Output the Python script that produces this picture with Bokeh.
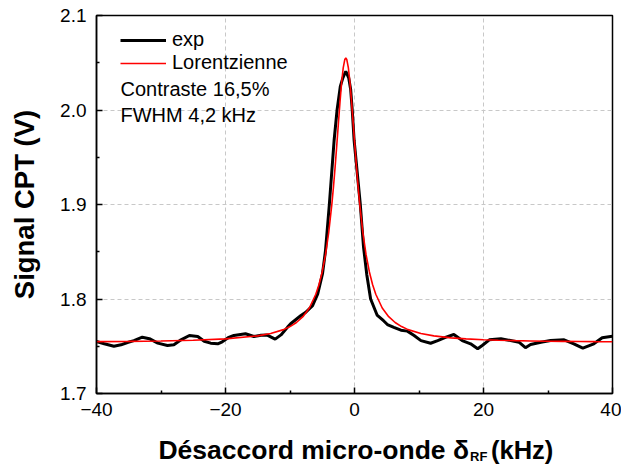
from bokeh.plotting import figure
from bokeh.layouts import column
from bokeh.models import (Range1d, FixedTicker, PrintfTickFormatter, Legend,
                          LegendItem, Label, ColumnDataSource)
from bokeh.embed import file_html
from bokeh.resources import INLINE

# ---------------- data ----------------
exp_x = [-40.0, -38.8, -37.3, -36.2, -35.2, -34.2, -32.9, -31.8, -30.5, -29.0,
         -28.0, -26.9, -25.6, -24.3, -23.3, -22.3, -21.2, -20.5, -19.6, -18.7,
         -16.9, -15.6, -14.5, -13.6, -13.0, -12.3, -11.4, -10.4, -9.9, -8.3,
         -7.55, -6.5, -5.7, -4.96, -4.5, -3.9, -3.16, -2.7, -2.2, -1.8,
         -1.35, -0.9, -0.6, -0.35, -0.06, 0.9, 1.4, 1.9, 2.5, 3.5,
         4.5, 5.1, 6.1, 7.2, 8.2, 9.24, 10.3, 11.8, 12.9, 14.2,
         15.4, 16.7, 18.0, 19.1, 19.8, 20.9, 22.7, 24.2, 25.5, 26.5,
         27.3, 28.9, 30.4, 32.5, 34.0, 35.4, 37.1, 38.4, 39.7, 40.0]
exp_y = [1.7550, 1.7526, 1.7500, 1.7515, 1.7540, 1.7560, 1.7596, 1.7580, 1.7533, 1.7508,
         1.7515, 1.7568, 1.7614, 1.7603, 1.7553, 1.7533, 1.7526, 1.7547, 1.7590, 1.7614,
         1.7632, 1.7603, 1.7617, 1.7620, 1.7600, 1.7575, 1.7620, 1.7700, 1.7738, 1.7825,
         1.7860, 1.7930, 1.8055, 1.8267, 1.8510, 1.9000, 1.9680, 2.0000, 2.0250, 2.0340,
         2.0410, 2.0340, 2.0220, 2.0000, 1.9680, 1.9000, 1.8550, 1.8260, 1.8000, 1.7830,
         1.7770, 1.7730, 1.7700, 1.7670, 1.7660, 1.7614, 1.7560, 1.7532, 1.7560, 1.7596,
         1.7624, 1.7560, 1.7526, 1.7473, 1.7508, 1.7568, 1.7579, 1.7560, 1.7543, 1.7485,
         1.7519, 1.7543, 1.7560, 1.7568, 1.7526, 1.7480, 1.7526, 1.7590, 1.7603, 1.7605]

fit_x = [-40.0, -35.0, -30.0, -25.0, -20.0, -15.0, -13.0, -11.0, -10.0, -9.0,
         -8.0, -7.0, -6.0, -5.5, -5.0, -4.5, -4.0, -3.5, -3.25, -3.0,
         -2.75, -2.5, -2.25, -2.0, -1.75, -1.5, -1.35, -1.2, -0.95, -0.7,
         -0.45, -0.2, 0.05, 0.3, 0.55, 0.8, 1.3, 1.8, 2.3, 2.8,
         3.3, 4.3, 5.3, 6.3, 7.3, 8.3, 10.3, 12.3, 15.0, 17.3,
         20.0, 22.3, 25.0, 27.3, 30.0, 32.3, 35.0, 37.3, 40.0]
fit_y = [1.7549, 1.7552, 1.7556, 1.7564, 1.7578, 1.7610, 1.7635, 1.7676, 1.7708, 1.7751,
         1.7813, 1.7905, 1.8050, 1.8154, 1.8289, 1.8466, 1.8701, 1.9010, 1.9195, 1.9401,
         1.9624, 1.9855, 2.0083, 2.0287, 2.0445, 2.0535, 2.0550, 2.0535, 2.0445, 2.0287,
         2.0083, 1.9855, 1.9624, 1.9401, 1.9195, 1.9010, 1.8701, 1.8466, 1.8289, 1.8154,
         1.8050, 1.7905, 1.7813, 1.7751, 1.7708, 1.7676, 1.7635, 1.7610, 1.7589, 1.7578,
         1.7569, 1.7564, 1.7559, 1.7556, 1.7553, 1.7552, 1.7550, 1.7549, 1.7548]

x_major = [-40, -20, 0, 20, 40]
x_minor = [-30, -10, 10, 30]
y_major = [1.7, 1.8, 1.9, 2.0, 2.1]
y_minor = [1.75, 1.85, 1.95, 2.05]

series_names = ["exp", "Lorentzienne"]
note_lines = ["Contraste 16,5%", "FWHM 4,2 kHz"]
y_title = "Signal CPT (V)"
x_title_parts = ["Désaccord micro-onde δ", "RF", "(kHz)"]

FONT = "Liberation Sans"
W = 621
H_MAIN = 430
H_TITLE = 43
LEFT, RIGHT = 96, 9

# ---------------- main figure ----------------
p = figure(width=W, height=H_MAIN, output_backend="svg", toolbar_location=None,
           title=None,
           x_range=Range1d(-40, 40), y_range=Range1d(1.7, 2.1),
           min_border_left=LEFT, min_border_right=RIGHT, min_border_top=15,
           min_border_bottom=37)
p.background_fill_color = "white"
p.border_fill_color = "white"
p.outline_line_color = "black"
p.outline_line_width = 1.5

src_exp = ColumnDataSource(dict(x=exp_x, y=exp_y))
src_fit = ColumnDataSource(dict(x=fit_x, y=fit_y))
r_exp = p.line("x", "y", source=src_exp, line_color="black", line_width=3)
r_fit = p.line("x", "y", source=src_fit, line_color="#ff0000", line_width=1.6)

p.xaxis.ticker = FixedTicker(ticks=x_major, minor_ticks=x_minor)
p.yaxis.ticker = FixedTicker(ticks=y_major, minor_ticks=y_minor)
p.yaxis.formatter = PrintfTickFormatter(format="%.1f")
for ax in (p.xaxis, p.yaxis):
    ax.axis_line_color = "black"
    ax.axis_line_width = 1.5
    ax.major_tick_in = 6
    ax.major_tick_out = 0
    ax.minor_tick_in = 3
    ax.minor_tick_out = 0
    ax.major_tick_line_color = "black"
    ax.minor_tick_line_color = "black"
    ax.major_tick_line_width = 1.5
    ax.minor_tick_line_width = 1.5
    ax.major_label_text_font = FONT
    ax.major_label_text_font_size = "19px"
    ax.major_label_text_color = "black"
p.xaxis.major_label_standoff = 9
p.yaxis.major_label_standoff = 10

p.yaxis.axis_label = y_title
p.yaxis.axis_label_text_font = FONT
p.yaxis.axis_label_text_font_style = "bold"
p.yaxis.axis_label_text_font_size = "27.5px"
p.yaxis.axis_label_text_color = "black"
p.yaxis.axis_label_standoff = 17

for g in (p.xgrid, p.ygrid):
    g.grid_line_color = "#c8c8c8"
    g.grid_line_dash = "4 3"
    g.grid_line_width = 1

legend = Legend(items=[LegendItem(label=series_names[0], renderers=[r_exp]),
                       LegendItem(label=series_names[1], renderers=[r_fit])],
                location=(24, 319), padding=0, margin=0, spacing=-3,
                glyph_width=46, glyph_height=20, label_height=20,
                label_standoff=6, border_line_color=None,
                background_fill_alpha=0,
                label_text_font=FONT, label_text_font_size="20px",
                label_text_color="black")
p.add_layout(legend, "center")

for i, t in enumerate(note_lines):
    p.add_layout(Label(x=24, y=378 - 73 - 26 * i, x_units="screen", y_units="screen",
                       text=t, text_font=FONT, text_font_size="20px",
                       text_color="black", text_baseline="middle", text_align="left"))

# ---------------- x-axis title strip (with subscript) ----------------
# the strip's frame is aligned with the main frame (LEFT .. W-RIGHT), so the
# x range is expressed in page pixels over that span
t = figure(width=W, height=H_TITLE, output_backend="svg", toolbar_location=None,
           title=None,
           x_range=Range1d(LEFT, W - RIGHT), y_range=Range1d(0, H_TITLE),
           x_axis_type=None, y_axis_type=None,
           min_border_left=LEFT, min_border_right=RIGHT, min_border_top=0,
           min_border_bottom=0)
t.outline_line_color = None
t.grid.visible = False
t.background_fill_color = "white"
t.border_fill_color = "white"

t.add_layout(Label(x=468.5, y=23.5, text=x_title_parts[0], text_font=FONT,
                   text_font_size="26.5px", text_font_style="bold",
                   text_align="right", text_baseline="alphabetic",
                   text_color="black"))
t.add_layout(Label(x=469.5, y=17, text=x_title_parts[1], text_font=FONT,
                   text_font_size="13px", text_font_style="bold",
                   text_align="left", text_baseline="alphabetic",
                   text_color="black"))
t.add_layout(Label(x=490.5, y=23.5, text=x_title_parts[2], text_font=FONT,
                   text_font_size="25.5px", text_font_style="bold",
                   text_align="left", text_baseline="alphabetic",
                   text_color="black"))

layout = column(p, t, spacing=0)
open("out.html", "w").write(file_html(layout, INLINE))
